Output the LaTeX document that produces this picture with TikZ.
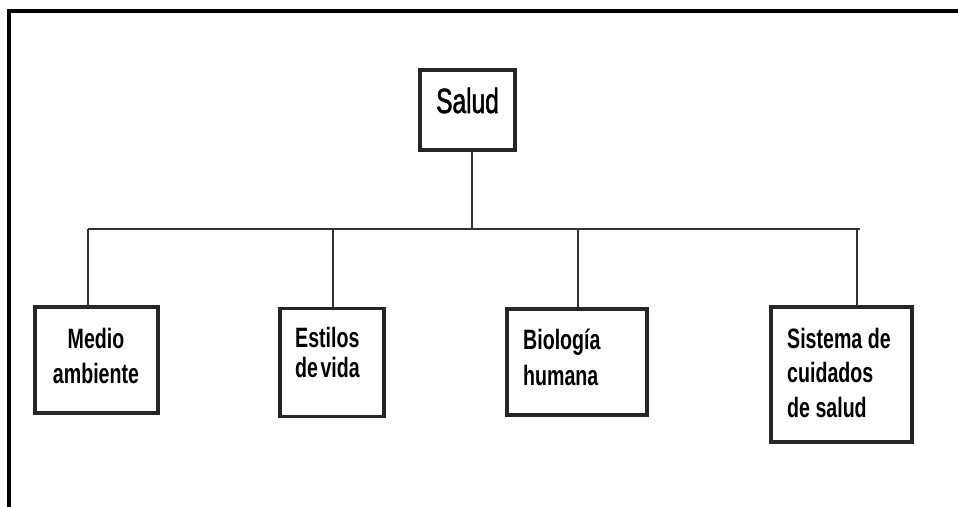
\documentclass[tikz,border=0pt]{standalone}
\usepackage{fontspec}
\setmainfont{Liberation Sans}[FakeStretch=0.7]
\newfontfamily\saludfont{Liberation Sans}[FakeStretch=0.7,FakeBold=1.5]
\newcommand{\tblock}[3]{\fontsize{28}{#1}\selectfont\begin{tabular}[t]{@{}#2@{}}#3\end{tabular}}
\begin{document}
\begin{tikzpicture}[x=1pt,y=-1pt,
  box/.style={draw=black!85,line width=3.2pt,minimum width=#1,inner sep=0pt},
  conn/.style={draw=black!80,line width=2.6pt},
  lbl/.style={inner sep=0pt,anchor=base west,font=\bfseries}]
\useasboundingbox (0,0) rectangle (958,506);
% outer frame
\draw[line width=4pt,line cap=rect] (9,506) -- (9,11) -- (958,11);
% boxes
\node[box=95pt,minimum height=80pt] (salud) at (467.5,110) {};
\node[box=123pt,minimum height=106pt] (medio) at (96.5,360) {};
\node[box=104pt,minimum height=108pt] (estilos) at (332,362.5) {};
\node[box=140pt,minimum height=106pt] (bio) at (577,362) {};
\node[box=141pt,minimum height=135pt] (sis) at (841.5,374.5) {};
% labels
\node[inner sep=0pt,anchor=base west,font=\saludfont\fontsize{35}{40}\selectfont] (tsalud) at (436,113) {Salud};
\node[inner sep=0pt,anchor=base,font=\bfseries] (tmedio) at (96,348) {\tblock{35}{c}{Medio\\ambiente}};
\node[lbl] (testilos) at (295,347) {\tblock{30}{l}{Estilos\\de\hspace{-3pt} vida}};
\node[lbl] (tbio) at (523,349) {\tblock{36}{l}{Biología\\humana}};
\node[lbl] (tsis) at (787,348) {\tblock{34.5}{l}{Sistema de\\cuidados\\de salud}};
% bus
\coordinate (busL) at (88,229);
\coordinate (busR) at (860,229);
\coordinate (t0) at (472,229);
\coordinate (t2) at (333,229);
\coordinate (t3) at (578,229);
\coordinate (t4) at (857,229);
\draw[conn] (busL) -- (busR);
\draw[conn] (t0) -- (t0 |- salud.south);
\draw[conn] (busL) -- (busL |- medio.north);
\draw[conn] (t2) -- (t2 |- estilos.north);
\draw[conn] (t3) -- (t3 |- bio.north);
\draw[conn] (t4) -- (t4 |- sis.north);
\end{tikzpicture}
\end{document}
